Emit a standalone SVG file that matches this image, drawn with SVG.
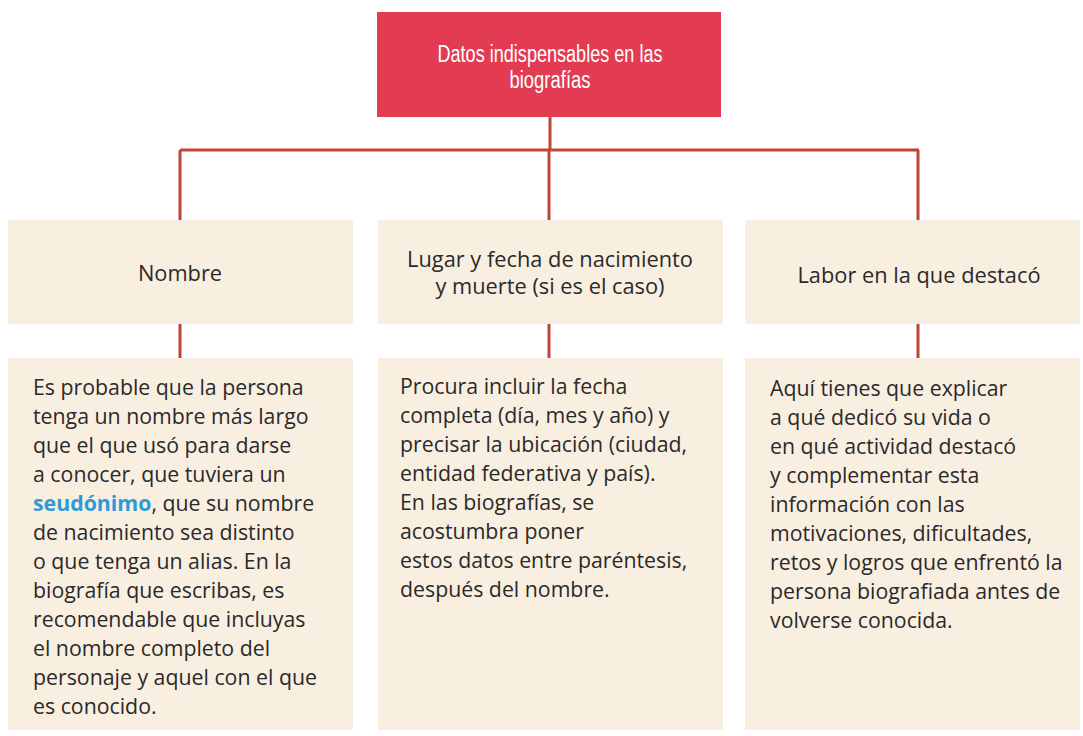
<svg xmlns="http://www.w3.org/2000/svg" width="1083" height="736" viewBox="0 0 1083 736">
<style>
.card{fill:#F9EFE1}
.conn{stroke:#BF4536;stroke-width:3;fill:none}
.hdr{font-family:"Open Sans","Noto Sans",sans-serif;font-size:21.8px;fill:#2a2a2a;text-anchor:middle}
.body{font-family:"Open Sans","Noto Sans",sans-serif;font-size:21.3px;fill:#2a2a2a}
.title{font-family:"Liberation Sans",sans-serif;font-size:23px;fill:#ffffff;text-anchor:middle}
.kw{fill:#2E9AD6;font-weight:bold}
</style>
<rect width="1083" height="736" fill="#ffffff"/>
<g id="connectors">
<line class="conn" x1="550" y1="117" x2="550" y2="150"/>
<line class="conn" x1="180" y1="150" x2="919" y2="150"/>
<line class="conn" x1="180" y1="150" x2="180" y2="220"/>
<line class="conn" x1="549" y1="150" x2="549" y2="220"/>
<line class="conn" x1="918" y1="150" x2="918" y2="220"/>
<line class="conn" x1="180" y1="324" x2="180" y2="358"/>
<line class="conn" x1="549" y1="324" x2="549" y2="358"/>
<line class="conn" x1="918" y1="324" x2="918" y2="358"/>
</g>
<g id="title">
<rect x="377" y="12" width="344" height="105" fill="#E23B52"/>
<text class="title" x="550" y="62" textLength="225" lengthAdjust="spacingAndGlyphs">Datos indispensables en las</text>
<text class="title" x="550" y="88" textLength="81" lengthAdjust="spacingAndGlyphs">biografías</text>
</g>
<g id="h-nombre">
<rect class="card" x="8" y="220" width="345" height="104"/>
<text class="hdr" x="180" y="281">Nombre</text>
</g>
<g id="h-lugar">
<rect class="card" x="378" y="220" width="345" height="104"/>
<text class="hdr" x="550" y="267">Lugar y fecha de nacimiento</text>
<text class="hdr" x="550" y="294">y muerte (si es el caso)</text>
</g>
<g id="h-labor">
<rect class="card" x="745" y="220" width="335" height="104"/>
<text class="hdr" x="919" y="283">Labor en la que destacó</text>
</g>
<g id="b-nombre">
<rect class="card" x="8" y="358" width="345" height="372"/>
<text class="body" x="33" y="395">Es probable que la persona</text>
<text class="body" x="33" y="424">tenga un nombre más largo</text>
<text class="body" x="33" y="453">que el que usó para darse</text>
<text class="body" x="33" y="482">a conocer, que tuviera un</text>
<text class="body" x="33" y="511"><tspan class="kw">seudónimo</tspan>, que su nombre</text>
<text class="body" x="33" y="540">de nacimiento sea distinto</text>
<text class="body" x="33" y="569">o que tenga un alias. En la</text>
<text class="body" x="33" y="598">biografía que escribas, es</text>
<text class="body" x="33" y="627">recomendable que incluyas</text>
<text class="body" x="33" y="656">el nombre completo del</text>
<text class="body" x="33" y="685">personaje y aquel con el que</text>
<text class="body" x="33" y="714">es conocido.</text>
</g>
<g id="b-lugar">
<rect class="card" x="378" y="358" width="345" height="372"/>
<text class="body" x="400" y="394">Procura incluir la fecha</text>
<text class="body" x="400" y="423">completa (día, mes y año) y</text>
<text class="body" x="400" y="452">precisar la ubicación (ciudad,</text>
<text class="body" x="400" y="481">entidad federativa y país).</text>
<text class="body" x="400" y="510">En las biografías, se</text>
<text class="body" x="400" y="539">acostumbra poner</text>
<text class="body" x="400" y="568">estos datos entre paréntesis,</text>
<text class="body" x="400" y="597">después del nombre.</text>
</g>
<g id="b-labor">
<rect class="card" x="745" y="358" width="335" height="372"/>
<text class="body" x="770" y="396">Aquí tienes que explicar</text>
<text class="body" x="770" y="425">a qué dedicó su vida o</text>
<text class="body" x="770" y="454">en qué actividad destacó</text>
<text class="body" x="770" y="483">y complementar esta</text>
<text class="body" x="770" y="512">información con las</text>
<text class="body" x="770" y="541">motivaciones, dificultades,</text>
<text class="body" x="770" y="570">retos y logros que enfrentó la</text>
<text class="body" x="770" y="599">persona biografiada antes de</text>
<text class="body" x="770" y="628">volverse conocida.</text>
</g>
</svg>
